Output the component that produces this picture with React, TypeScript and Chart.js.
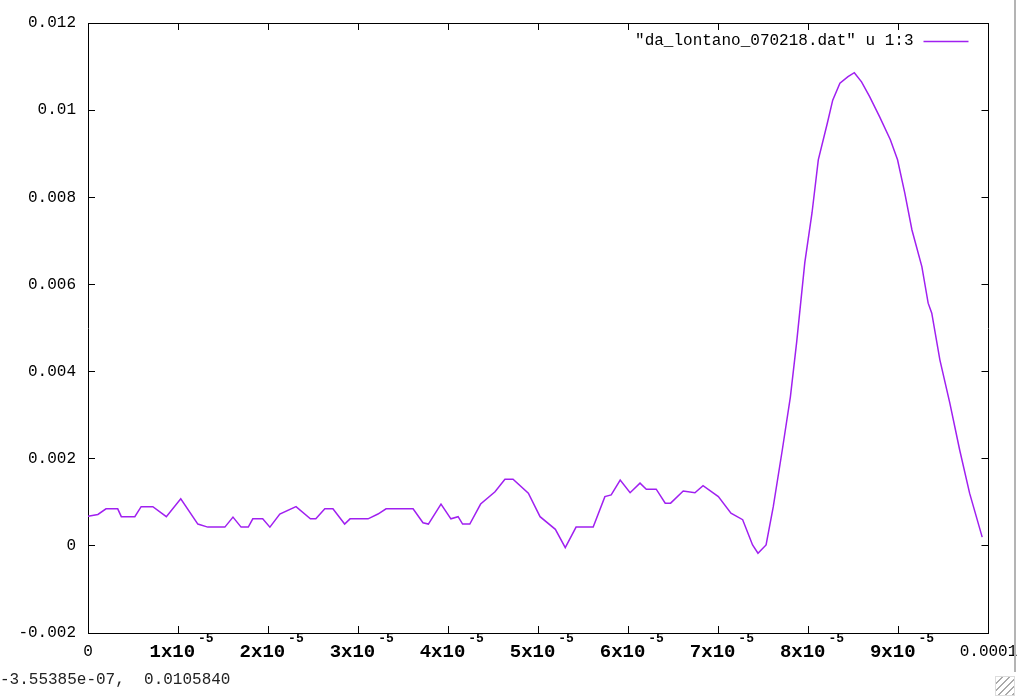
import React, { useEffect, useRef } from "react";
import { Chart, registerables } from "chart.js";

Chart.register(...registerables);

const seriesLabel = '"da_lontano_070218.dat" u 1:3';
const seriesColor = "#a020f0";

const xValues = [
  0, 1.1e-6, 2.0e-6, 3.3e-6, 3.7e-6, 5.2e-6, 5.9e-6, 7.2e-6, 8.7e-6, 10.3e-6,
  12.2e-6, 13.3e-6, 15.2e-6, 16.1e-6, 17.0e-6, 17.8e-6, 18.3e-6, 19.4e-6, 20.2e-6, 21.3e-6,
  23.1e-6, 24.7e-6, 25.3e-6, 26.3e-6, 27.2e-6, 28.5e-6, 29.1e-6, 31.1e-6, 32.2e-6, 33.1e-6,
  36.1e-6, 37.2e-6, 37.8e-6, 39.2e-6, 40.3e-6, 41.1e-6, 41.6e-6, 42.4e-6, 43.6e-6, 45.2e-6,
  46.3e-6, 47.2e-6, 48.9e-6, 50.2e-6, 51.9e-6, 53.0e-6, 54.2e-6, 56.1e-6, 57.4e-6, 58.1e-6,
  59.1e-6, 60.2e-6, 61.3e-6, 62.0e-6, 63.1e-6, 64.1e-6, 64.7e-6, 66.1e-6, 67.4e-6, 68.3e-6,
  70.0e-6, 71.4e-6, 72.7e-6, 73.8e-6, 74.4e-6, 75.3e-6, 76.1e-6, 77.1e-6, 78.0e-6, 78.7e-6,
  79.6e-6, 80.4e-6, 81.1e-6, 82.1e-6, 82.7e-6, 83.5e-6, 84.4e-6, 85.1e-6, 85.9e-6, 86.8e-6,
  87.9e-6, 89.1e-6, 89.9e-6, 90.7e-6, 91.5e-6, 92.6e-6, 93.3e-6, 93.7e-6, 94.6e-6, 95.7e-6,
  96.8e-6, 97.9e-6, 99.3e-6,
];

const yValues = [
  0.00068, 0.00072, 0.00085, 0.00085, 0.00067, 0.00067, 0.0009, 0.0009, 0.00067, 0.00108,
  0.0005, 0.00043, 0.00043, 0.00066, 0.00043, 0.00043, 0.00062, 0.00062, 0.00043, 0.00073,
  0.0009, 0.00062, 0.00062, 0.00085, 0.00085, 0.0005, 0.00062, 0.00062, 0.00073, 0.00085,
  0.00085, 0.00053, 0.0005, 0.00096, 0.00062, 0.00067, 0.0005, 0.0005, 0.00096, 0.00124,
  0.00153, 0.00153, 0.00121, 0.00067, 0.00038, -0.00004, 0.00043, 0.00043, 0.00113, 0.00117,
  0.00151, 0.00122, 0.00144, 0.0013, 0.0013, 0.00098, 0.00098, 0.00126, 0.00122, 0.00138,
  0.00113, 0.00075, 0.0006, 0.00002, -0.00017, 0.00002, 0.0009, 0.0022, 0.00342, 0.00468,
  0.0065, 0.00764, 0.00886, 0.0097, 0.01023, 0.01062, 0.01077, 0.01086, 0.01065, 0.01031,
  0.00985, 0.00932, 0.00886, 0.0081, 0.00725, 0.00641, 0.00557, 0.00534, 0.00427, 0.00328,
  0.0022, 0.00121, 0.0002,
];

const xMin = 0;
const xMax = 0.0001;
const xStep = 0.00001;
const yMin = -0.002;
const yMax = 0.012;
const yStep = 0.002;

const xTickLabels = ["0", "1x10 ", "2x10 ", "3x10 ", "4x10 ", "5x10 ", "6x10 ", "7x10 ", "8x10 ", "9x10 ", "0.0001"];
const xTickSuperscripts = ["", "-5", "-5", "-5", "-5", "-5", "-5", "-5", "-5", "-5", ""];
const yTickLabels = ["-0.002", "0", "0.002", "0.004", "0.006", "0.008", "0.01", "0.012"];

const statusText = "-3.55385e-07,  0.0105840";

const MONO = '"Liberation Mono", "DejaVu Sans Mono", monospace';

const superscriptPlugin = {
  id: "superscripts",
  afterDraw(chart: any) {
    const scale = chart.scales.x;
    const ctx = chart.ctx;
    ctx.save();
    ctx.fillStyle = "#000";
    ctx.font = "bold 13px " + MONO;
    ctx.textAlign = "left";
    ctx.textBaseline = "middle";
    scale.ticks.forEach((t: any, i: number) => {
      const s = xTickSuperscripts[i];
      if (!s) return;
      const px = scale.getPixelForValue(t.value);
      ctx.fillText(s, px + 20, chart.chartArea.bottom + 6);
    });
    ctx.restore();
  },
};

const keyPlugin = {
  id: "gnuplotKey",
  afterDraw(chart: any) {
    const ds = chart.data.datasets[0];
    const area = chart.chartArea;
    const ctx = chart.ctx;
    const y = area.top + 18;
    ctx.save();
    ctx.fillStyle = "#000";
    ctx.font = "16px " + MONO;
    ctx.textAlign = "right";
    ctx.textBaseline = "middle";
    ctx.fillText(ds.label, area.right - 75, y);
    ctx.strokeStyle = ds.borderColor;
    ctx.lineWidth = 1.5;
    ctx.beginPath();
    ctx.moveTo(area.right - 65, y + 0.5);
    ctx.lineTo(area.right - 20, y + 0.5);
    ctx.stroke();
    ctx.restore();
  },
};

const noPad = (s: any) => {
  s.paddingLeft = 0;
  s.paddingRight = 0;
  s.paddingTop = 0;
  s.paddingBottom = 0;
};

export default function App() {
  const ref = useRef<HTMLCanvasElement | null>(null);

  useEffect(() => {
    if (!ref.current) return;
    const points = xValues.map((x, i) => ({ x, y: yValues[i] }));
    const inwardGrid = {
      drawOnChartArea: false,
      drawTicks: true,
      tickLength: -7,
      color: "#000",
      lineWidth: 1,
    };
    const border = { display: true, color: "#000", width: 1 };
    const chart = new Chart(ref.current, {
      type: "line",
      data: {
        datasets: [
          {
            label: seriesLabel,
            data: points,
            borderColor: seriesColor,
            backgroundColor: seriesColor,
            borderWidth: 1.5,
            pointRadius: 0,
            tension: 0,
            fill: false,
          },
        ],
      },
      options: {
        responsive: false,
        animation: false,
        layout: { padding: { left: 0, top: 23, right: 31.5, bottom: 0 } },
        plugins: {
          legend: { display: false },
          tooltip: { enabled: false },
        },
        scales: {
          x: {
            type: "linear",
            position: "bottom",
            min: xMin,
            max: xMax,
            grid: inwardGrid,
            border,
            ticks: {
              stepSize: xStep,
              autoSkip: false,
              maxRotation: 0,
              padding: 15,
              color: "#000",
              font: (c: any) =>
                c.index === 0 || c.index === xTickLabels.length - 1
                  ? { family: MONO, size: 16, weight: "normal", lineHeight: "22px" }
                  : { family: MONO, size: 19, weight: "bold", lineHeight: "22px" },
              callback: (_v: any, i: number) => xTickLabels[i],
            },
            afterFit: (s: any) => {
              s.height = 63;
              noPad(s);
            },
          },
          x2: {
            type: "linear",
            position: "top",
            min: xMin,
            max: xMax,
            grid: inwardGrid,
            border,
            ticks: { stepSize: xStep, display: false, autoSkip: false },
            afterFit: (s: any) => {
              s.height = 0;
              noPad(s);
            },
          },
          y: {
            type: "linear",
            position: "left",
            min: yMin,
            max: yMax,
            grid: inwardGrid,
            border,
            ticks: {
              stepSize: yStep,
              autoSkip: false,
              padding: 19,
              color: "#000",
              font: { family: MONO, size: 16 },
              callback: (_v: any, i: number) => yTickLabels[i],
            },
            afterFit: (s: any) => {
              s.width = 88;
              noPad(s);
            },
          },
          y2: {
            type: "linear",
            position: "right",
            min: yMin,
            max: yMax,
            grid: inwardGrid,
            border,
            ticks: { stepSize: yStep, display: false, autoSkip: false },
            afterFit: (s: any) => {
              s.width = 0;
              noPad(s);
            },
          },
        },
      },
      plugins: [superscriptPlugin, keyPlugin],
    });
    return () => chart.destroy();
  }, []);

  return (
    <div style={{ position: "absolute", left: 0, top: 0, width: 1020, height: 696, background: "#fff", overflow: "hidden" }}>
      <canvas ref={ref} width={1020} height={696} style={{ display: "block" }} />
      <div
        style={{
          position: "absolute",
          left: 0,
          top: 671,
          font: "16px " + MONO,
          lineHeight: "18px",
          color: "#222",
          whiteSpace: "pre",
        }}
      >
        {statusText}
      </div>
      <div style={{ position: "absolute", left: 1014, top: 0, width: 2, height: 672, background: "#b4b4b4" }} />
      <div
        style={{
          position: "absolute",
          left: 995,
          top: 676,
          width: 20,
          height: 20,
          border: "1px solid #ddd",
          boxSizing: "border-box",
          background: "repeating-linear-gradient(135deg, #fff 0px, #fff 4px, #aaa 4px, #aaa 5px)",
        }}
      />
    </div>
  );
}
